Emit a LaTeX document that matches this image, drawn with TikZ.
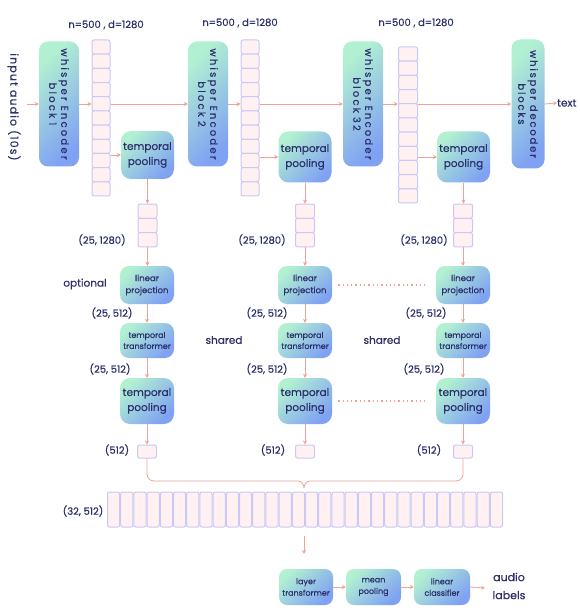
\documentclass[tikz,border=0pt]{standalone}
\usepackage{fontspec}
\setmainfont{Poppins}[FakeBold=0.4]
\usetikzlibrary{arrows.meta}
\definecolor{navy}{HTML}{2B2F6B}
\definecolor{salmon}{HTML}{F0A394}
\definecolor{mint}{HTML}{B2F0D2}
\definecolor{bblue}{HTML}{7FA2F2}
\definecolor{tokfill}{HTML}{FFF1F1}
\definecolor{tokdraw}{HTML}{C8C9F4}
\tikzset{
  box/.style={rectangle, rounded corners=9pt, top color=mint, bottom color=bblue, shading angle=45, draw=none, inner sep=0pt, align=center, text=navy},
  tok/.style={rectangle, rounded corners=2pt, fill=tokfill, draw=tokdraw, line width=1pt, inner sep=0pt},
  lbl/.style={text=navy, inner sep=0pt, font=\fontsize{10}{11}\selectfont},
  ar/.style={draw=salmon, line width=0.8pt, -{Stealth[length=4pt,width=4pt]}},
  ln/.style={draw=salmon, line width=0.8pt},
  dotl/.style={draw=salmon, line width=1.3pt, dash pattern=on 1.3pt off 3pt},
  enctext/.style={rotate=-90, align=center, text=navy, inner sep=0pt, font=\fontsize{10}{12}\selectfont\addfontfeatures{LetterSpace=22}},
  poolbox/.style={box, minimum width=53pt, minimum height=48pt, rounded corners=10pt, font=\fontsize{10.5}{15}\selectfont},
  lpbox/.style={box, minimum width=54pt, minimum height=38pt, font=\fontsize{8.5}{12}\selectfont},
  ttbox/.style={box, minimum width=54pt, minimum height=35pt, font=\fontsize{8}{11}\selectfont},
  btbox/.style={box, minimum height=36pt, rounded corners=8pt, font=\fontsize{8}{11.5}\selectfont},
}
\begin{document}
\begin{tikzpicture}[x=1pt,y=-1pt]
\useasboundingbox (0,0) rectangle (579,612);
\fill[white] (0,0) rectangle (579,612);

% ---------- top row ----------
\node[rotate=-90, text=navy, inner sep=0pt, font=\fontsize{11}{12}\selectfont\addfontfeatures{LetterSpace=10}] (inlbl) at (14,107) {input\hspace{4pt}audio\hspace{4pt}(10s)};
\coordinate (inA) at (27,104);

\node[box, minimum width=40pt, minimum height=125pt] (blk1) at (59,104) {};
\node[enctext] (blk1t) at (blk1) {whisper\hspace{5pt}Encoder\\block\hspace{4pt}1};
\node[box, minimum width=40pt, minimum height=125pt] (blk2) at (208,104) {};
\node[enctext] (blk2t) at (blk2) {whisper\hspace{5pt}Encoder\\block\hspace{4pt}2};
\node[box, minimum width=40pt, minimum height=125pt] (blk3) at (363,104) {};
\node[enctext] (blk3t) at (blk3) {whisper\hspace{5pt}Encoder\\block\hspace{4pt}32};
\node[box, minimum width=33pt, minimum height=129pt] (dec) at (528,104) {};
\node[enctext, font=\fontsize{10}{12}\selectfont\addfontfeatures{LetterSpace=18}] (dect) at (dec) {whisper\hspace{5pt}decoder\\blocks};
\node[text=navy, inner sep=0pt, anchor=west, font=\fontsize{10.5}{12}\selectfont] (txt) at (557,103) {text};

\foreach \i in {0,...,10} {
  \node[tok, minimum width=18pt, minimum height=14.2pt] (ca\i) at (101,{47.1+14.18*\i}) {};
  \node[tok, minimum width=18pt, minimum height=14.2pt] (cb\i) at (250,{47.1+14.18*\i}) {};
  \node[tok, minimum width=19pt, minimum height=14.2pt] (cc\i) at (408,{54.1+14.18*\i}) {};
}
\node[lbl] (n1) at (106,25) {n=500 , d=1280};
\node[lbl] (n2) at (240,23) {n=500 , d=1280};
\node[lbl] (n3) at (416,23) {n=500 , d=1280};

\draw[ar] (inA) -- (blk1.west);
\draw[ar] (blk1.east) -- (blk1.east -| ca0.west);
\draw[ar] (blk2.west -| ca0.east) -- (blk2.west);
\draw[ar] (blk2.east) -- (blk2.east -| cb0.west);
\draw[ar] (blk3.west -| cb0.east) -- (blk3.west);
\draw[ar] (blk3.east) -- (blk3.east -| cc0.west);
\draw[ar] (dec.west -| cc0.east) -- (dec.west);
\draw[ar] (dec.east) -- (txt.west);

% ---------- temporal pooling (top) ----------
\node[poolbox] (tp1) at (147.5,155) {temporal\\pooling};
\node[poolbox, minimum height=51pt] (tp2) at (305,157) {temporal\\pooling};
\node[poolbox, minimum height=51pt] (tp3) at (463.5,157) {temporal\\pooling};
\draw[ar] (tp1.west -| ca0.east) -- (tp1.west);
\draw[ar] (tp2.west -| cb0.east) -- (tp2.west);
\draw[ar] (tp3.west -| cc0.east) -- (tp3.west);

% stacks
\foreach \i in {0,1,2} {
  \node[tok, minimum width=19pt, minimum height=14.3pt] (sa\i) at (147.5,{211.2+14.3*\i}) {};
  \node[tok, minimum width=19pt, minimum height=14.3pt] (sb\i) at (305,{211.2+14.3*\i}) {};
  \node[tok, minimum width=19pt, minimum height=14.3pt] (sc\i) at (463,{211.2+14.3*\i}) {};
}
\draw[ar] (tp1.south) -- (tp1.south |- sa0.north);
\draw[ar] (tp2.south) -- (tp2.south |- sb0.north);
\draw[ar] (tp3.south) -- (tp3.south |- sc0.north);
\node[lbl] (l1a) at (102,240) {(25, 1280)};
\node[lbl] (l1b) at (262,240) {(25, 1280)};
\node[lbl] (l1c) at (424,240) {(25, 1280)};

% ---------- linear projection ----------
\node[lpbox] (lp1) at (147,285) {linear\\projection};
\node[lpbox] (lp2) at (305,285) {linear\\projection};
\node[lpbox] (lp3) at (463,285) {linear\\projection};
\draw[ar] (sa2.south) -- (sa2.south |- lp1.north);
\draw[ar] (sb2.south) -- (sb2.south |- lp2.north);
\draw[ar] (sc2.south) -- (sc2.south |- lp3.north);
\node[lbl, font=\fontsize{10.5}{12}\selectfont] (opt) at (85,284) {optional};
\draw[dotl, shorten <=6pt, shorten >=11pt] (lp2.east) -- (lp3.west);

\node[lbl] (l2a) at (112,313) {(25, 512)};
\node[lbl] (l2b) at (267,313) {(25, 512)};
\node[lbl] (l2c) at (426,313) {(25, 512)};

% ---------- temporal transformer ----------
\node[ttbox] (tt1) at (147,340.5) {temporal\\transformer};
\node[ttbox] (tt2) at (305,340.5) {temporal\\transformer};
\node[ttbox] (tt3) at (463,340.5) {temporal\\transformer};
\draw[ar] (lp1.south) -- (tt1.north);
\draw[ar] (lp2.south) -- (tt2.north);
\draw[ar] (lp3.south) -- (tt3.north);
\node[lbl, font=\fontsize{10.5}{12}\selectfont] (sh1) at (224,340) {shared};
\node[lbl, font=\fontsize{10.5}{12}\selectfont] (sh2) at (382,340) {shared};

\node[lbl] (l3a) at (110,369) {(25, 512)};
\node[lbl] (l3b) at (267,369) {(25, 512)};
\node[lbl] (l3c) at (424,369) {(25, 512)};

% ---------- temporal pooling (lower) ----------
\node[poolbox, minimum width=54pt, minimum height=46pt] (pp1) at (147,401) {temporal\\pooling};
\node[poolbox, minimum width=54pt, minimum height=46pt] (pp2) at (305,401) {temporal\\pooling};
\node[poolbox, minimum width=54pt, minimum height=46pt] (pp3) at (463,401) {temporal\\pooling};
\draw[ar] (tt1.south) -- (pp1.north);
\draw[ar] (tt2.south) -- (pp2.north);
\draw[ar] (tt3.south) -- (pp3.north);
\draw[dotl, shorten <=6pt, shorten >=11pt] (pp2.east) -- (pp3.west);

% small cells
\node[tok, minimum width=19pt, minimum height=13pt] (v1) at (147,451.5) {};
\node[tok, minimum width=19pt, minimum height=13pt] (v2) at (305,451.5) {};
\node[tok, minimum width=19pt, minimum height=13pt] (v3) at (463,451.5) {};
\draw[ar] (pp1.south) -- (v1.north);
\draw[ar] (pp2.south) -- (v2.north);
\draw[ar] (pp3.south) -- (v3.north);
\node[lbl] (l4a) at (117,450) {(512)};
\node[lbl] (l4b) at (273,450) {(512)};
\node[lbl] (l4c) at (429,450) {(512)};

% brace
\coordinate (bml) at (298,481);
\coordinate (bmr) at (310,481);
\coordinate (btip) at (304,488);
\draw[ln, rounded corners=7pt] (v1.south) |- (bml);
\draw[ln, rounded corners=7pt] (v3.south) |- (bmr);
\draw[ln] (bml) to[out=0,in=90] (btip);
\draw[ln] (bmr) to[out=180,in=90] (btip);

% big row
\foreach \i in {0,...,29} {
  \node[tok, minimum width=12.2pt, minimum height=35pt] (r\i) at ({113.6+13.2*\i},509.5) {};
}
\node[lbl] (l5) at (83,511) {(32, 512)};

% ---------- bottom ----------
\coordinate (dA) at (304,536);
\coordinate (dB) at (304,554);
\draw[ar] (dA) -- (dB);
\node[btbox, minimum width=54pt] (lt) at (306,587) {layer\\transformer};
\node[btbox, minimum width=55pt] (mp) at (373.5,587) {mean\\pooling};
\node[btbox, minimum width=56pt] (lc) at (442,587) {linear\\classifier};
\node[lbl, align=center, font=\fontsize{11}{18}\selectfont] (al) at (509,586) {audio\\labels};
\coordinate (alw) at (485,588);
\draw[ar] (lt.east) -- (mp.west);
\draw[ar] (mp.east) -- (lc.west);
\draw[ar] (lc.east) -- (alw);
\end{tikzpicture}
\end{document}
